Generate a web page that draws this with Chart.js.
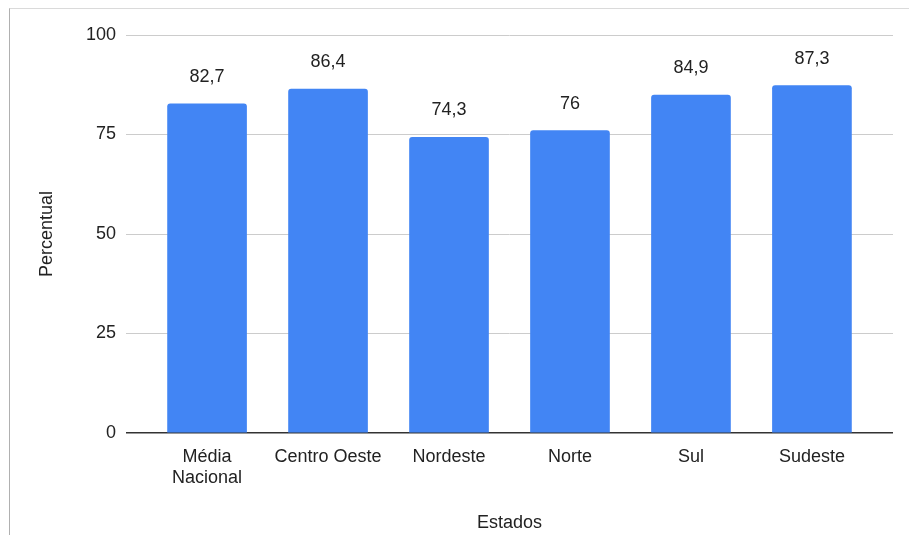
<!DOCTYPE html>
<html>
<head>
<meta charset="utf-8">
<script src="https://cdn.jsdelivr.net/npm/chart.js@4"></script>
<style>
  html, body { margin: 0; padding: 0; background: #fff; }
  #wrap { position: relative; width: 909px; height: 535px; overflow: hidden; }
  #frame {
    position: absolute; left: 9px; top: 8px; right: -2px; bottom: -2px;
    border-left: 1px solid #b0b0b0; border-top: 1px solid #dadada;
  }
  #chart { position: absolute; left: 0; top: 0; }
</style>
</head>
<body>
<div id="wrap">
  <div id="frame"></div>
  <canvas id="chart" width="909" height="535"></canvas>
</div>
<script>
const categories = [['Média', 'Nacional'], 'Centro Oeste', 'Nordeste', 'Norte', 'Sul', 'Sudeste'];
const percentual = [82.7, 86.4, 74.3, 76, 84.9, 87.3];
const yTicks = [0, 25, 50, 75, 100];

const FONT = '"Liberation Sans", Arial, sans-serif';
const TEXT = '#222222';

// value labels above each bar, written with a decimal comma
const valueLabels = {
  id: 'valueLabels',
  afterDatasetsDraw(chart) {
    const ctx = chart.ctx;
    const meta = chart.getDatasetMeta(0);
    ctx.save();
    ctx.font = '18px ' + FONT;
    ctx.fillStyle = TEXT;
    ctx.textAlign = 'center';
    ctx.textBaseline = 'alphabetic';
    meta.data.forEach((bar, i) => {
      ctx.fillText(String(percentual[i]).replace('.', ','), bar.x, bar.y - 22);
    });
    ctx.restore();
  }
};

new Chart(document.getElementById('chart'), {
  type: 'bar',
  data: {
    datasets: [{
      label: 'Percentual',
      data: percentual.map((v, i) => ({ x: i, y: v })),
      backgroundColor: '#4285f4',
      borderRadius: { topLeft: 3, topRight: 3 },
      borderSkipped: 'bottom',
      barThickness: 79
    }]
  },
  options: {
    responsive: false,
    animation: false,
    layout: { padding: { top: 35, right: 16, left: 0, bottom: 0 } },
    plugins: { legend: { display: false }, tooltip: { enabled: false } },
    scales: {
      x: {
        type: 'linear',
        min: -0.67,
        max: 5.67,
        offset: false,
        afterBuildTicks: (scale) => { scale.ticks = categories.map((_, i) => ({ value: i })); },
        afterFit: (scale) => { scale.height = 102; },
        grid: { display: false },
        border: { display: false },
        ticks: {
          autoSkip: false,
          maxRotation: 0,
          padding: 6,
          color: TEXT,
          font: { family: FONT, size: 18, lineHeight: 1.15 },
          callback: (value) => categories[value]
        },
        title: {
          display: true,
          text: 'Estados',
          color: TEXT,
          font: { family: FONT, size: 18, lineHeight: 1.15 },
          padding: { top: 0, bottom: 2 }
        }
      },
      y: {
        min: 0,
        max: 100,
        afterBuildTicks: (scale) => { scale.ticks = yTicks.map(v => ({ value: v })); },
        afterFit: (scale) => { scale.width = 126; },
        grid: {
          drawTicks: false,
          color: (c) => c.tick && c.tick.value === 0 ? '#333333' : '#cccccc',
          lineWidth: (c) => c.tick && c.tick.value === 0 ? 1.5 : 1
        },
        border: { display: false },
        ticks: {
          padding: 10,
          color: TEXT,
          font: { family: FONT, size: 18 }
        },
        title: {
          display: true,
          text: 'Percentual',
          color: TEXT,
          font: { family: FONT, size: 18, lineHeight: 1.15 },
          padding: { top: 37, bottom: 0 }
        }
      }
    }
  },
  plugins: [valueLabels]
});
</script>
</body>
</html>
